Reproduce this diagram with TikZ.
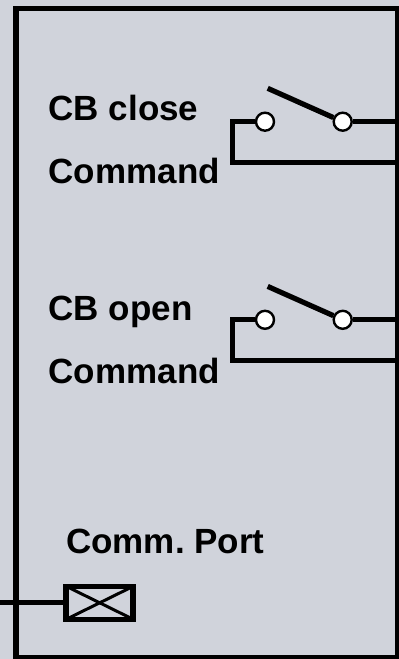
\documentclass[tikz,border=0pt]{standalone}
\usepackage{fontspec}
\setmainfont{Liberation Sans}
\usetikzlibrary{calc}
\definecolor{bg}{RGB}{208,211,219}
\begin{document}
\begin{tikzpicture}[x=1pt,y=-1pt,
  wire/.style={line width=5.2pt},
  contact/.style={circle,draw,fill=white,line width=2.4pt,minimum size=18pt,inner sep=0pt},
  lbl/.style={anchor=base west,inner sep=0pt,font=\fontsize{35}{40}\selectfont\bfseries},
  portbox/.style={draw,line width=5.6pt,minimum width=67pt,minimum height=33pt,inner sep=0pt},
]
\useasboundingbox (0,0) rectangle (399,659);
\fill[bg] (0,0) rectangle (399,659);
% frame
\coordinate (f1) at (15.8,8.5);
\coordinate (f2) at (397.8,658);
\draw[line width=5.4pt] (f1) rectangle (f2);
% labels
\node[lbl] (t1) at (48.5,120.7) {CB close};
\node[lbl] (t2) at (48.5,183.3) {Command};
\node[lbl] (t3) at (48.5,320.5) {CB open};
\node[lbl] (t4) at (48.5,383.3) {Command};
\node[lbl] (t5) at (66,553.3) {Comm.\ Port};
% switch 1
\node[contact] (c1a) at (265,121.7) {};
\node[contact] (c1b) at (342.7,121.7) {};
\coordinate (w1a) at (232.5,121.7);
\coordinate (w1b) at (232.5,162.5);
\coordinate (w1c) at (398,162.5);
\coordinate (w1d) at (398,121.7);
\coordinate (b1) at (267.7,88.3);
\draw[wire] (c1a.west) -- (w1a) -- (w1b) -- (w1c);
\draw[wire] (c1b.east) -- (w1d);
\draw[wire] (b1) -- (c1b);
% switch 2
\node[contact] (c2a) at (265,319.8) {};
\node[contact] (c2b) at (342.7,319.8) {};
\coordinate (w2a) at (232.5,319.8);
\coordinate (w2b) at (232.5,360.8);
\coordinate (w2c) at (398,360.8);
\coordinate (w2d) at (398,319.8);
\coordinate (b2) at (267.7,286.4);
\draw[wire] (c2a.west) -- (w2a) -- (w2b) -- (w2c);
\draw[wire] (c2b.east) -- (w2d);
\draw[wire] (b2) -- (c2b);
% comm port
\node[portbox] (port) at (99.7,602.8) {};
\draw[line width=3pt] ($(port.north west)+(2.8,2.8)$) -- ($(port.south east)+(-2.8,-2.8)$);
\draw[line width=3pt] ($(port.south west)+(2.8,-2.8)$) -- ($(port.north east)+(-2.8,2.8)$);
\coordinate (pl) at (0,602.8);
\draw[wire] (pl) -- (port.west);
\end{tikzpicture}
\end{document}
